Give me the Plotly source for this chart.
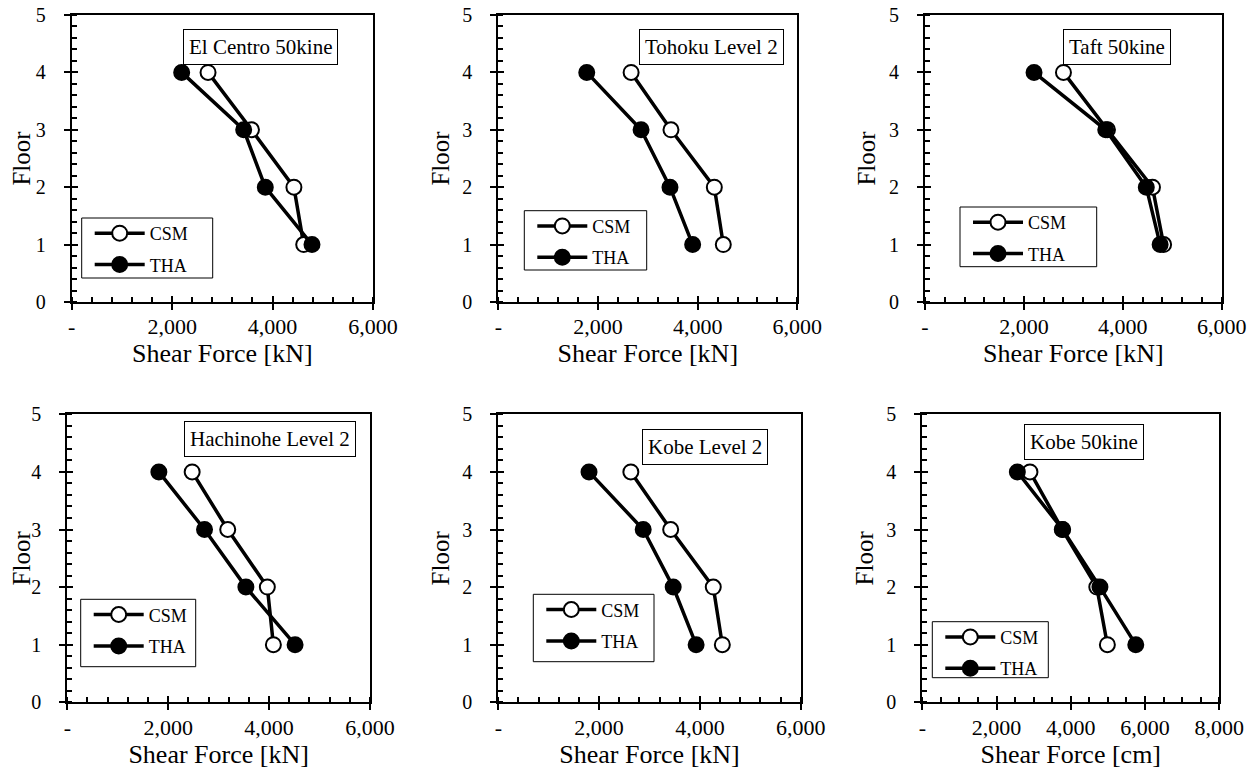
import plotly.graph_objects as go

floors = [1, 2, 3, 4]

titles = ["El Centro 50kine", "Tohoku Level 2", "Taft 50kine",
          "Hachinohe Level 2", "Kobe Level 2", "Kobe 50kine"]

csm_elcentro = [4620, 4425, 3580, 2715]
tha_elcentro = [4785, 3855, 3425, 2190]
csm_tohoku = [4515, 4335, 3465, 2665]
tha_tohoku = [3900, 3445, 2865, 1775]
csm_taft = [4825, 4600, 3690, 2800]
tha_taft = [4755, 4475, 3655, 2205]
csm_hachinohe = [4085, 3965, 3180, 2475]
tha_hachinohe = [4515, 3540, 2720, 1815]
csm_kobe_l2 = [4445, 4265, 3420, 2630]
tha_kobe_l2 = [3925, 3470, 2875, 1800]
csm_kobe_50 = [4985, 4700, 3770, 2900]
tha_kobe_50 = [5750, 4785, 3780, 2560]

csm_sets = [csm_elcentro, csm_tohoku, csm_taft, csm_hachinohe, csm_kobe_l2, csm_kobe_50]
tha_sets = [tha_elcentro, tha_tohoku, tha_taft, tha_hachinohe, tha_kobe_l2, tha_kobe_50]

x_titles = ["Shear Force [kN]"] * 5 + ["Shear Force [cm]"]
x_ticks_6000 = [0, 2000, 4000, 6000]
x_text_6000 = ["-", "2,000", "4,000", "6,000"]
x_ticks_8000 = [0, 2000, 4000, 6000, 8000]
x_text_8000 = ["-", "2,000", "4,000", "6,000", "8,000"]
y_ticks = [0, 1, 2, 3, 4, 5]

W, H = 1260, 775
OFF = 8  # page body margin offset
FONT = "'Liberation Serif', 'Times New Roman', Tinos, serif"


def fx(px):
    return (px - OFF) / W


def fy(py):
    return 1 - (py - OFF) / H


# panel pixel boxes (screen coords): (left, right, top, bottom)
boxes = [
    (71.7, 373.0, 15.0, 302.0),
    (498.3, 797.3, 15.0, 302.0),
    (925.0, 1221.7, 15.0, 302.0),
    (67.3, 370.0, 414.3, 702.3),
    (498.3, 800.7, 414.3, 702.3),
    (922.3, 1219.3, 414.3, 702.3),
]
title_centers = [(260.3, 46.7), (711.0, 46.8), (1117.2, 47.0),
                 (270.0, 439.0), (705.0, 447.0), (1083.7, 441.7)]
# legend boxes (left, top, right, bottom)
legend_boxes = [(81.7, 218.0, 212.7, 278.0), (524.3, 210.7, 646.7, 270.0),
                (960.0, 207.0, 1096.7, 266.7), (80.7, 599.3, 195.7, 666.7),
                (533.3, 594.3, 654.0, 661.7), (932.3, 621.7, 1048.3, 677.7)]

fig = go.Figure()
layout = dict(
    width=W, height=H,
    margin=dict(l=0, r=0, t=0, b=0),
    paper_bgcolor="white", plot_bgcolor="white",
    font=dict(family=FONT, color="black"),
    showlegend=True,
    annotations=[],
    shapes=[],
)

for i in range(6):
    n = i + 1
    xs = "" if n == 1 else str(n)
    lg = "legend" if n == 1 else f"legend{n}"
    fig.add_trace(go.Scatter(
        x=csm_sets[i], y=floors, mode="lines+markers", name="CSM",
        xaxis=f"x{xs}", yaxis=f"y{xs}", legend=lg, legendgroup=f"c{n}",
        line=dict(color="black", width=3.5),
        marker=dict(symbol="circle", size=15, color="white",
                    line=dict(color="black", width=2)),
    ))
    fig.add_trace(go.Scatter(
        x=tha_sets[i], y=floors, mode="lines+markers", name="THA",
        xaxis=f"x{xs}", yaxis=f"y{xs}", legend=lg, legendgroup=f"t{n}",
        line=dict(color="black", width=3.5),
        marker=dict(symbol="circle", size=15, color="black",
                    line=dict(color="black", width=2)),
    ))
    l, r, t, b = boxes[i]
    if i == 5:
        xmax, tv, tt, mdt = 8000, x_ticks_8000, x_text_8000, 500
    else:
        xmax, tv, tt, mdt = 6000, x_ticks_6000, x_text_6000, 400
    layout[f"xaxis{xs}"] = dict(
        domain=[fx(l), fx(r)], anchor=f"y{xs}", range=[0, xmax],
        automargin=False,
        tickmode="array", tickvals=tv, ticktext=tt,
        ticks="outside", ticklen=6, tickwidth=2, tickcolor="black",
        minor=dict(ticks="inside", dtick=mdt, tick0=0, ticklen=5,
                   tickwidth=1.5, tickcolor="black"),
        showline=True, linewidth=2, linecolor="black", mirror=True,
        showgrid=False, zeroline=False,
        tickfont=dict(family=FONT, size=22, color="black"),
        ticklabelstandoff=-2, ticklabeloverflow="allow",
        title=dict(text=x_titles[i], font=dict(family=FONT, size=26, color="black"),
                   standoff=0),
        fixedrange=True,
    )
    layout[f"yaxis{xs}"] = dict(
        domain=[fy(b), fy(t)], anchor=f"x{xs}", range=[0, 5],
        automargin=False,
        tickmode="array", tickvals=y_ticks,
        ticks="outside", ticklen=6, tickwidth=2, tickcolor="black",
        minor=dict(ticks="inside", dtick=0.2, tick0=0, ticklen=5,
                   tickwidth=1.5, tickcolor="black"),
        showline=True, linewidth=2, linecolor="black", mirror=True,
        showgrid=False, zeroline=False,
        tickfont=dict(family=FONT, size=20, color="black"),
        ticklabelstandoff=14, ticklabeloverflow="allow",
        title=dict(text="Floor", font=dict(family=FONT, size=25, color="black"),
                   standoff=6),
        fixedrange=True,
    )
    # inward halves of the major ticks (majors cross the axis line)
    layout[f"xaxis{n + 6}"] = dict(
        domain=[fx(l), fx(r)], anchor=f"y{xs}", overlaying=f"x{xs}",
        range=[0, xmax], automargin=False,
        tickmode="array", tickvals=tv, ticks="inside", ticklen=6, tickwidth=2,
        tickcolor="black", showticklabels=False, showline=False,
        showgrid=False, zeroline=False, fixedrange=True, side="bottom",
    )
    layout[f"yaxis{n + 6}"] = dict(
        domain=[fy(b), fy(t)], anchor=f"x{xs}", overlaying=f"y{xs}",
        range=[0, 5], automargin=False,
        tickmode="array", tickvals=y_ticks, ticks="inside", ticklen=6, tickwidth=2,
        tickcolor="black", showticklabels=False, showline=False,
        showgrid=False, zeroline=False, fixedrange=True, side="left",
    )
    fig.add_trace(go.Scatter(
        x=[None], y=[None], xaxis=f"x{n + 6}", yaxis=f"y{n + 6}",
        showlegend=False, hoverinfo="skip", mode="lines",
    ))
    bl, bt, br, bb = legend_boxes[i]
    layout[lg] = dict(
        x=fx(bl + 8), y=fy(bt - 3), xanchor="left", yanchor="top",
        xref="paper", yref="paper",
        borderwidth=0, bgcolor="rgba(0,0,0,0)",
        font=dict(family=FONT, size=18, color="black"),
        tracegroupgap=5, itemwidth=50,
    )
    layout["shapes"].append(dict(
        type="rect", xref="paper", yref="paper",
        x0=fx(bl), x1=fx(br), y0=fy(bb), y1=fy(bt),
        line=dict(color="black", width=1), fillcolor="white", layer="above",
        opacity=1,
    ))
    cx, cy = title_centers[i]
    layout["annotations"].append(dict(
        text=titles[i], x=fx(cx), y=fy(cy), xref="paper", yref="paper",
        xanchor="center", yanchor="middle", showarrow=False,
        font=dict(family=FONT, size=21, color="black"),
        bordercolor="black", borderwidth=1, borderpad=5, bgcolor="white",
    ))

fig.update_layout(**layout)
fig.write_html("out.html")
